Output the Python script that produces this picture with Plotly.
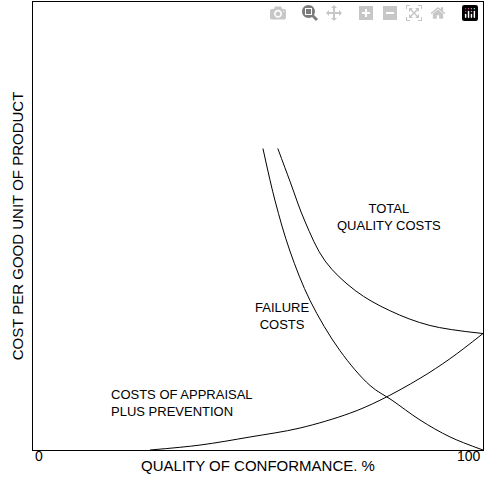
import plotly.graph_objects as go

failure_x = [51.1, 53.8, 57.1, 61.6, 68.2, 74.9, 79.8, 86.0, 92.7, 100]
failure_y = [67.3, 55.6, 44.4, 33.3, 22.2, 14.4, 11.1, 6.7, 2.9, 0]
appraisal_x = [26, 37.1, 48.2, 59.3, 70.4, 77.1, 86, 92.7, 100]
appraisal_y = [0, 1.1, 2.9, 4.9, 8.2, 11.1, 16, 20.4, 26]
total_x = [54.4, 57.1, 60.4, 64.9, 71.6, 79.3, 88.2, 100]
total_y = [67.3, 60, 51.1, 42.2, 35.6, 31.1, 27.8, 26]
tick_labels = ["0", "100"]

F = "Liberation Sans Narrow, Arial Narrow, Liberation Sans, Arial"
fig = go.Figure()
for xs, ys in [(failure_x, failure_y), (appraisal_x, appraisal_y), (total_x, total_y)]:
    fig.add_trace(go.Scatter(x=xs, y=ys, mode="lines", line=dict(color="black", width=1, shape="spline"),
                             showlegend=False, hoverinfo="skip"))

labels = [(79, 52, "TOTAL<br>QUALITY COSTS"), (55.5, 30, "FAILURE<br>COSTS"), (33, 10.5, "COSTS OF APPRAISAL<br>PLUS PREVENTION")]
for x, y, t in labels:
    fig.add_annotation(x=x, y=y, text=t, showarrow=False, align="left" if x < 50 else "center",
                       font=dict(family=F, size=13, color="black"))

fig.add_annotation(x=0, y=0, yref="paper", yshift=-16, text=tick_labels[0], showarrow=False,
                   xanchor="left", font=dict(family=F, size=14))
fig.add_annotation(x=100, y=0, yref="paper", yshift=-16, text=tick_labels[1], showarrow=False,
                   xanchor="right", font=dict(family=F, size=14))

fig.update_layout(
    width=484, height=487, margin=dict(l=33, r=1, t=2, b=37),
    paper_bgcolor="white", plot_bgcolor="white",
    font=dict(family=F, size=14, color="black"),
    xaxis=dict(range=[0, 100], showticklabels=False, showgrid=False, zeroline=False,
               showline=True, linecolor="black", linewidth=1, mirror=True, ticks="",
               title=dict(text="QUALITY OF CONFORMANCE. %", standoff=10, font=dict(size=15))),
    yaxis=dict(range=[0, 100], showticklabels=False, showgrid=False, zeroline=False,
               showline=True, linecolor="black", linewidth=1, mirror=True, ticks="",
               title=dict(text="COST PER GOOD UNIT OF PRODUCT", standoff=4, font=dict(size=15))),
)
fig.write_html("out.html", post_script="document.body.style.margin='0';document.body.style.overflow='hidden';")
